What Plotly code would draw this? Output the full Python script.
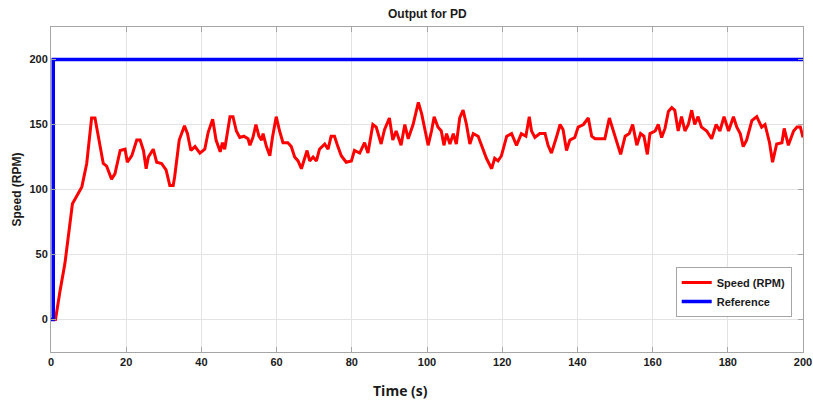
import plotly.graph_objects as go

# Time (s) and speed (RPM)
time_s = [0, 1.2, 2.4, 3.7, 5.7, 6.8, 8.2, 9.5, 10.8, 11.7, 13.0, 13.9, 14.8, 16.1, 17.0,
          18.4, 19.7, 20.3, 21.5, 22.8, 23.7, 24.6, 25.3, 25.9, 27.2, 28.1, 29.4, 30.6,
          31.6, 32.5, 32.9, 34.1, 35.5, 36.3, 37.2, 38.3, 39.6, 40.9, 41.8, 43.0, 43.9,
          45.0, 45.6, 46.2, 47.6, 48.4, 49.3, 50.2, 51.3, 52.4, 52.9, 53.7, 54.5, 55.3,
          56.0, 56.4, 57.3, 58.2, 58.9, 59.9, 60.8, 61.7, 63.0, 63.9, 64.8, 65.7, 66.6,
          67.5, 68.1, 68.8, 69.7, 70.6, 71.4, 72.8, 73.7, 74.5, 75.4, 76.3, 77.2, 78.5,
          79.9, 80.7, 82.1, 83.4, 84.3, 85.6, 86.5, 87.8, 88.7, 90.0, 90.9, 91.8, 93.1,
          94.1, 95.0, 96.3, 97.7, 98.6, 99.5, 100.3, 101.2, 101.9, 102.9, 103.8, 104.5,
          105.2, 106.1, 107.0, 107.8, 108.7, 109.6, 110.5, 111.4, 112.3, 113.6, 114.9,
          115.8, 117.2, 118.0, 118.9, 119.8, 121.2, 122.5, 123.8, 125.1, 126.3, 127.2,
          127.8, 128.7, 130.0, 131.4, 132.2, 133.1, 134.5, 135.4, 136.2, 137.1, 138.0,
          139.3, 140.2, 141.6, 142.9, 143.8, 144.7, 146.0, 147.3, 148.5, 149.6, 150.4,
          151.5, 152.7, 153.8, 154.7, 155.8, 156.8, 157.7, 158.6, 159.3, 160.7, 161.5,
          162.4, 163.3, 164.2, 165.1, 165.9, 166.8, 167.7, 168.6, 169.5, 170.4, 171.2,
          172.1, 173.0, 174.4, 175.7, 176.9, 177.9, 179.0, 180.2, 181.5, 182.4, 183.3,
          184.1, 185.0, 186.4, 187.7, 189.0, 189.9, 191.1, 191.9, 193.0, 194.4, 195.0,
          196.1, 197.5, 198.4, 199.3, 200.0]
speed_rpm = [0, 0, 22, 43, 89, 95, 102, 120, 155, 155, 133, 120, 118, 108, 112,
             130, 131, 121, 126, 138, 138, 130, 116, 125, 131, 121, 120, 115,
             103, 103, 110, 138, 149, 143, 130, 133, 128, 131, 144, 154, 138,
             129, 136, 131, 156, 156, 145, 140, 141, 139, 134, 140, 150, 141,
             138, 143, 133, 126, 140, 156, 145, 136, 136, 133, 125, 122, 116,
             124, 130, 122, 125, 122, 131, 135, 131, 141, 141, 133, 126, 121,
             122, 130, 128, 136, 128, 150, 148, 135, 146, 155, 138, 145, 134,
             150, 139, 150, 167, 158, 145, 134, 145, 156, 148, 145, 134,
             143, 135, 143, 135, 155, 161, 150, 135, 143, 141, 130,
             124, 116, 124, 122, 126, 141, 143, 134, 143, 141, 156,
             145, 140, 143, 143, 134, 128, 141, 150, 146, 130, 138,
             140, 148, 150, 155, 141, 139, 139, 139, 155, 145, 136,
             127, 141, 143, 150, 134, 143, 141, 127, 143, 145, 150,
             140, 147, 160, 163, 161, 145, 156, 145, 150, 161, 150,
             156, 148, 145, 139, 150, 145, 156, 145, 156, 148, 143,
             133, 138, 153, 156, 148, 150, 136, 121, 135, 136, 147,
             134, 145, 148, 148, 140]

ref_time = [0, 0.6, 0.6, 200]
ref_value = [0, 0, 200, 200]

x_ticks = [0, 20, 40, 60, 80, 100, 120, 140, 160, 180, 200]
y_ticks = [0, 50, 100, 150, 200]

font_bold = "Liberation Sans"

fig = go.Figure()
fig.add_trace(go.Scatter(x=time_s, y=speed_rpm, mode="lines", name="<b>Speed (RPM)</b>",
                         line=dict(color="#ff0000", width=3, shape="linear")))
fig.add_trace(go.Scatter(x=ref_time, y=ref_value, mode="lines", name="<b>Reference</b>",
                         line=dict(color="#0000ff", width=3.5)))

axis_common = dict(showline=True, linecolor="#a6a6a6", linewidth=1, mirror="ticks",
                   ticks="inside", ticklen=5, tickcolor="#a6a6a6", automargin=False,
                   showgrid=True, gridcolor="#e3e3e3", gridwidth=1, zeroline=False,
                   tickfont=dict(family=font_bold, size=11, color="#1a1a1a"))

fig.update_layout(
    width=813, height=400,
    margin=dict(l=51, r=10, t=27, b=48, autoexpand=False),
    plot_bgcolor="white", paper_bgcolor="white",
    xaxis=dict(range=[0, 200], tickvals=x_ticks, ticktext=[f"<b>{v}</b>" for v in x_ticks],
               **axis_common),
    yaxis=dict(range=[-25, 225], tickvals=y_ticks, ticktext=[f"<b>{v}</b>" for v in y_ticks],
               **axis_common),
    legend=dict(x=0.985, y=0.108, xanchor="right", yanchor="bottom",
                bgcolor="white", bordercolor="#a6a6a6", borderwidth=1,
                font=dict(family=font_bold, size=11, color="#1a1a1a"),
                tracegroupgap=0, itemwidth=30),
    showlegend=True,
    annotations=[
        dict(text="<b>Output for PD</b>", xref="paper", yref="paper", x=0.5, y=1,
             yshift=4, xanchor="center", yanchor="bottom", showarrow=False,
             font=dict(family=font_bold, size=12, color="#1a1a1a")),
        dict(text="<b>Speed (RPM)</b>", xref="paper", yref="paper", x=0, xshift=-35,
             y=0.5, textangle=-90, xanchor="center", yanchor="middle", showarrow=False,
             font=dict(family=font_bold, size=12, color="#1a1a1a")),
        dict(text="<b>Time (s)</b>", xref="paper", yref="paper", x=0.465, y=0,
             yshift=-27, xanchor="center", yanchor="top", showarrow=False,
             font=dict(family="Open Sans", size=14, color="#1a1a1a")),
    ],
)

fig.write_html("out.html")
